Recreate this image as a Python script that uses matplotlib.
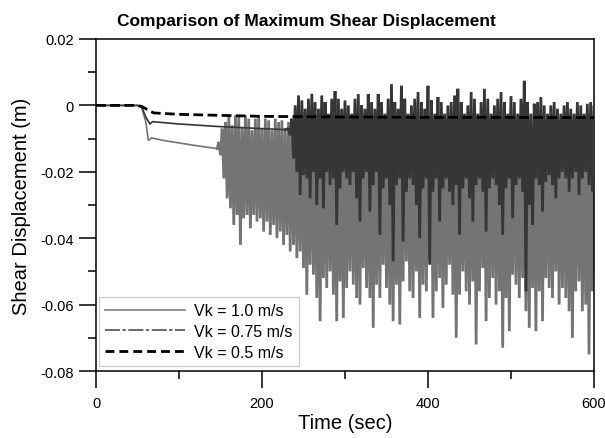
import numpy as np
import matplotlib
matplotlib.use('Agg')
from matplotlib import pyplot as plt
from matplotlib.lines import Line2D
from matplotlib.ticker import MultipleLocator, FuncFormatter

plt.rcParams['font.family'] = ['Liberation Sans', 'DejaVu Sans']

labels = ['Vk = 1.0 m/s', 'Vk = 0.75 m/s', 'Vk = 0.5 m/s']

# smooth part before the oscillation starts (time in sec, displacement in mm)
t_pre_10 = [0, 50, 55, 60, 63, 67, 80, 100, 120, 140, 146]
d_pre_10 = [0, 0, -0.5, -5, -10.5, -9.8, -10.5, -11.3, -12.1, -12.8, -13]

t_pre_075 = [0, 50, 55, 60, 65, 68, 100, 150, 200, 228]
d_pre_075 = [0, 0, -0.5, -3.5, -5.6, -4.9, -5.6, -6.4, -7, -7.3]

t_05 = [0, 48, 55, 60, 65, 70, 72, 100, 150, 200, 250, 300, 400, 500, 600]
d_05 = [0, 0, -0.3, -1, -1.7, -2.3, -2.3, -2.7, -3.0, -3.3, -3.4, -3.5, -3.6, -3.6, -3.7]

# oscillating part: (peak, trough) in mm for each cycle, one cycle every 4 sec
osc_start_10 = 148
osc_10 = [
    (-11, -15), (-7, -22), (-5, -28), (-3.5, -31), (-6, -36), (-3, -33), (-3.5, -42), (-6.5, -34), (-3, -33), (-4, -37),
    (-7.5, -33), (-4, -35), (-3.5, -34), (-7, -38), (-4, -35), (-4.5, -39), (-7.5, -36), (-4, -40), (-5, -38), (-4.5, -42),
    (-7, -39), (-5, -44), (-6, -42), (-8, -46), (-9, -44), (-8, -49), (-7, -57), (-9, -48), (-8, -51), (-9, -58),
    (-8, -65), (-9, -52), (-8, -55), (-9, -50), (-8, -57), (-9, -65), (-8, -53), (-9, -64), (-8, -55), (-9, -50),
    (-8, -54), (-9, -58), (-8, -60), (-9, -49), (-8, -55), (-9, -58), (-8, -67), (-9, -54), (-8, -58), (-9, -48),
    (-8, -55), (-9, -60), (-8, -65), (-9, -54), (-8, -66), (-9, -53), (-8, -47), (-9, -56), (-8, -58), (-9, -50),
    (-8, -64), (-9, -54), (-8, -56), (-9, -47), (-8, -64), (-9, -56), (-8, -52), (-9, -61), (-8, -54), (-9, -48),
    (-8, -57), (-9, -70), (-8, -57), (-9, -50), (-8, -56), (-9, -60), (-8, -53), (-9, -72), (-8, -56), (-9, -49),
    (-8, -65), (-9, -58), (-8, -52), (-9, -60), (-8, -56), (-9, -73), (-8, -58), (-9, -68), (-8, -51), (-9, -54),
    (-8, -58), (-9, -52), (-8, -62), (-9, -67), (-8, -55), (-9, -68), (-8, -56), (-9, -65), (-8, -52), (-9, -55),
    (-8, -58), (-9, -50), (-8, -60), (-9, -55), (-8, -58), (-9, -62), (-8, -70), (-9, -56), (-8, -53), (-9, -62),
    (-8, -60), (-9, -75), (-8, -56), (-9, -52),
]

osc_start_075 = 232
osc_075 = [
    (-7, -9), (-4, -16), (0, -20), (3, -27), (1.5, -21), (-1, -22), (2, -28), (3.5, -20), (1, -30), (-1, -22),
    (3, -31), (1, -20), (-2.5, -24), (2, -22), (4.3, -36), (2, -25), (-1, -20), (1.5, -22), (0, -24), (-2.5, -20),
    (2, -28), (3.4, -35), (0, -22), (-1, -20), (3.4, -32), (1, -24), (-1, -20), (3.4, -39), (1, -25), (-2.5, -22),
    (2, -30), (6.4, -47), (1, -24), (-1, -22), (5.9, -41), (2, -26), (-2.5, -22), (0, -24), (2, -30), (4, -40),
    (1, -25), (-1, -22), (5.9, -48), (1.5, -26), (-2.5, -22), (2.5, -35), (1, -25), (-2.5, -22), (0, -26), (1, -30),
    (3, -24), (5, -39), (1, -25), (-2.5, -22), (0, -28), (4, -35), (2, -24), (-2.5, -22), (1, -26), (5, -38),
    (2, -25), (-2.5, -22), (0, -24), (2, -30), (4, -39), (1, -25), (-2.5, -22), (2.8, -34), (1, -24), (-2.5, -22),
    (2, -26), (7.4, -56), (1, -30), (-2.5, -36), (0.5, -22), (1, -24), (2.5, -32), (0, -23), (-2.5, -21), (0, -24),
    (1, -28), (-1, -22), (-2.5, -20), (0, -22), (1, -26), (-1, -22), (-2.5, -20), (1, -27), (0, -22), (-2.5, -20),
    (0.5, -24), (1, -26), (0, -22),
]
cycle = 4


def zigzag(t_pre, d_pre, start, pairs):
    x = [t_pre[-1]]
    y = [d_pre[-1]]
    for i, (hi, lo) in enumerate(pairs):
        t = start + cycle * i
        x += [t, t + cycle / 2]
        y += [hi, lo]
    return np.array(x), np.array(y) / 1000.0


zx10, zy10 = zigzag(t_pre_10, d_pre_10, osc_start_10, osc_10)
zx075, zy075 = zigzag(t_pre_075, d_pre_075, osc_start_075, osc_075)

c10 = '#747474'
c075 = '#363636'
c05 = 'black'

fig = plt.figure(figsize=(6.05, 4.39), dpi=100)
ax = fig.add_axes([0.1587, 0.1526, 0.8231, 0.7563])

ax.plot(t_pre_10, np.array(d_pre_10) / 1000, color=c10, lw=1.2, zorder=2)
ax.plot(zx10, zy10, color=c10, lw=2.0, solid_joinstyle='bevel', zorder=2)
ax.plot(t_pre_075, np.array(d_pre_075) / 1000, color=c075, lw=1.2, zorder=3)
ax.plot(zx075, zy075, color=c075, lw=2.0, solid_joinstyle='bevel', zorder=3)
ax.plot(t_05, np.array(d_05) / 1000, color=c05, lw=2.0, linestyle=(0, (3.5, 1.6)), zorder=4)

ax.set_xlim(0, 600)
ax.set_ylim(-0.08, 0.02)
ax.xaxis.set_major_locator(MultipleLocator(200))
ax.xaxis.set_minor_locator(MultipleLocator(100))
ax.yaxis.set_major_locator(MultipleLocator(0.02))
ax.yaxis.set_minor_locator(MultipleLocator(0.01))
ax.yaxis.set_major_formatter(FuncFormatter(lambda v, p: '0' if abs(v) < 1e-9 else f'{v:.2f}'))
ax.tick_params(which='major', direction='out', length=12, width=1.1, labelsize=10.5)
ax.tick_params(which='minor', direction='out', length=6, width=1.1)
ax.tick_params(axis='x', which='major', pad=6)
ax.tick_params(axis='y', which='major', pad=4)
for s in ax.spines.values():
    s.set_linewidth(1.1)

ax.set_xlabel('Time (sec)', fontsize=14.5, labelpad=2)
ax.set_ylabel('Shear Displacement (m)', fontsize=14.5, labelpad=7)
fig.suptitle('Comparison of Maximum Shear Displacement', x=0.507, y=0.968,
             fontsize=12.5, fontweight='bold')

handles = [
    Line2D([], [], color='#808080', lw=1.2),
    Line2D([], [], color='#505050', lw=1.2, linestyle=(0, (9, 1.5, 2, 1.5))),
    Line2D([], [], color='black', lw=2.0, linestyle=(0, (3.2, 1.8))),
]
leg = ax.legend(handles, labels, loc='lower left', bbox_to_anchor=(0.006, 0.015),
                borderaxespad=0, fontsize=11.5, handlelength=5, handletextpad=0.55,
                labelspacing=0.35, fancybox=False, framealpha=1)
leg.get_frame().set_edgecolor('#c8c8c8')
leg.get_frame().set_linewidth(0.8)

fig.savefig('out.png', dpi=100)
